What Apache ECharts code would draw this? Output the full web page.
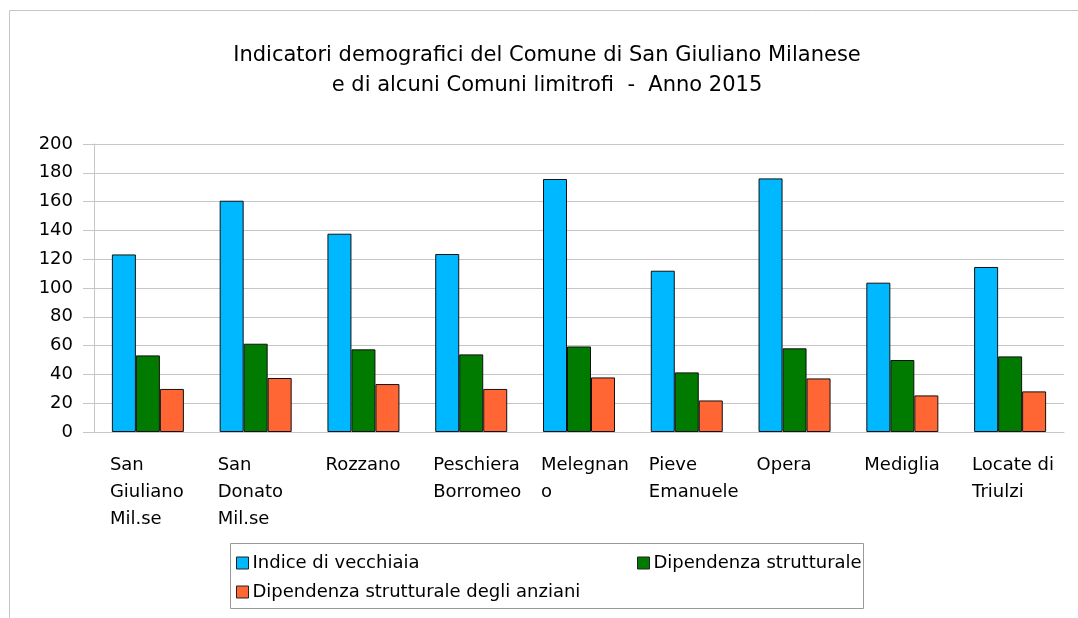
<!DOCTYPE html>
<html>
<head>
<meta charset="utf-8">
<script src="https://cdn.jsdelivr.net/npm/echarts@6/dist/echarts.min.js"></script>
<style>
  html, body { margin: 0; padding: 0; background: #fff; }
  #main { width: 1078px; height: 618px; }
</style>
</head>
<body>
<div id="main"></div>
<script>
    'use strict';

    // comuni (etichette asse x, già spezzate come nel grafico originale)
    var comuni = [
        'San\nGiuliano\nMil.se', 'San\nDonato\nMil.se', 'Rozzano', 'Peschiera\nBorromeo',
        'Melegnan\no', 'Pieve\nEmanuele', 'Opera', 'Mediglia', 'Locate di\nTriulzi'
    ];
    var indiceVecchiaia = [123.3, 160.6, 137.7, 123.6, 175.7, 112.0, 176.1, 103.7, 114.6];
    var dipStrutturale = [53.2, 61.3, 57.4, 53.9, 59.4, 41.4, 58.1, 50.0, 52.5];
    var dipAnziani = [29.9, 37.5, 33.3, 29.9, 37.9, 21.9, 37.2, 25.4, 28.2];
    var yTicks = [0, 20, 40, 60, 80, 100, 120, 140, 160, 180, 200];

    var nomi = ['Indice di vecchiaia', 'Dipendenza strutturale', 'Dipendenza strutturale degli anziani'];
    var titolo = ['Indicatori demografici del Comune di San Giuliano Milanese', 'e di alcuni Comuni limitrofi  -  Anno 2015'];
    var colori = ['#00b8ff', '#007b00', '#ff6633'];
    var font = 'DejaVu Sans';
    var grigio = '#c6c6c6';

    var serie = [indiceVecchiaia, dipStrutturale, dipAnziani].map(function(d, i) {
        return {
            name: nomi[i],
            type: 'bar',
            data: d,
            barWidth: 24,
            barGap: '0%',
            itemStyle: { color: colori[i], borderColor: '#111', borderWidth: 1 }
        };
    });

    var legenda = function(i, left, top) {
        return {
            data: [nomi[i]],
            left: left,
            top: top,
            padding: 0,
            itemWidth: 12,
            itemHeight: 12,
            itemGap: 0,
            icon: 'rect',
            itemStyle: { borderColor: '#222', borderWidth: 1 },
            textStyle: { fontFamily: font, fontSize: 18, color: '#000', padding: [0, 0, 0, -1] },
            selectedMode: false
        };
    };

    var myChart = echarts.init(document.getElementById('main'));
    myChart.setOption({
        animation: false,
        backgroundColor: '#fff',
        title: {
            text: titolo.map(function(t) { return '{t|' + t + '}'; }).join('\n'),
            left: 232,
            top: 36,
            padding: [5, 0, 5, 0],
            textStyle: {
                fontWeight: 'normal',
                rich: { t: { width: 630, align: 'center', fontFamily: font, fontSize: 21, fontWeight: 'normal', lineHeight: 30, color: '#000' } }
            }
        },
        graphic: [
            { type: 'rect', shape: { x: 9.5, y: 10.5, width: 1200, height: 800 }, style: { fill: 'none', stroke: grigio, lineWidth: 1 }, z: -1 },
            { type: 'rect', shape: { x: 230.5, y: 543.5, width: 633, height: 65 }, style: { fill: 'none', stroke: '#999', lineWidth: 1 } }
        ],
        legend: [legenda(0, 236, 554), legenda(1, 637, 554), legenda(2, 236, 583)],
        grid: { left: 94, right: 14, top: 144, bottom: 186, containLabel: false },
        xAxis: {
            type: 'category',
            data: comuni,
            axisLine: { lineStyle: { color: grigio } },
            axisTick: { length: 11, lineStyle: { color: grigio } },
            axisLabel: {
                margin: 20,
                align: 'center',
                formatter: function(v) { return '{a|' + v + '}'; },
                rich: { a: { width: 76, align: 'left', fontFamily: font, fontSize: 18, lineHeight: 27, color: '#000' } }
            }
        },
        yAxis: {
            type: 'value',
            min: yTicks[0],
            max: yTicks[yTicks.length - 1],
            interval: yTicks[1] - yTicks[0],
            axisLine: { show: true, lineStyle: { color: grigio } },
            axisTick: { show: true, length: 11, lineStyle: { color: grigio } },
            splitLine: { lineStyle: { color: grigio } },
            axisLabel: { margin: 21, fontFamily: font, fontSize: 18, color: '#000' }
        },
        series: serie
    });
</script>
</body>
</html>
